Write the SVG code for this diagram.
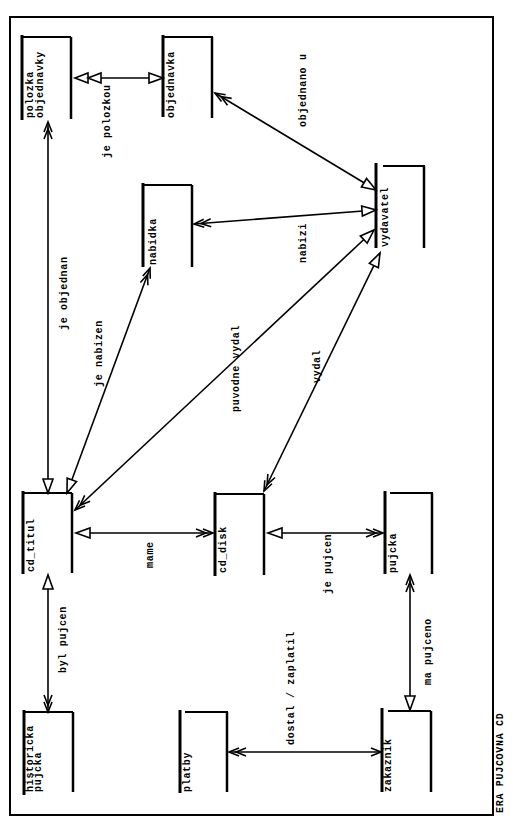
<svg xmlns="http://www.w3.org/2000/svg" width="519" height="821" viewBox="0 0 519 821">
<style>
.bg{fill:#fff}
.frame{fill:none;stroke:#000;stroke-width:2}
.bl{stroke:#000;stroke-width:3;fill:none}
.bt{stroke:#000;stroke-width:2;fill:none}
.br{stroke:#000;stroke-width:2.5;fill:none}
.c{stroke:#000;stroke-width:1.6;fill:none;marker-start:url(#crow);marker-end:url(#tri)}
.t{font-family:"Liberation Mono","DejaVu Sans Mono",monospace;font-size:10px;letter-spacing:0.7px;font-weight:bold;fill:#000}
</style>
<defs>
<marker id="tri" markerUnits="userSpaceOnUse" markerWidth="16" markerHeight="12" refX="15" refY="6" orient="auto-start-reverse" overflow="visible">
<path d="M1,1 L15,6 L1,11 Z" fill="#fff" stroke="#000" stroke-width="1.6"/>
</marker>
<marker id="tri2" markerUnits="userSpaceOnUse" markerWidth="16" markerHeight="12" refX="15" refY="6" orient="auto-start-reverse" overflow="visible">
<path d="M2,1 L15,6 L2,11 Z M-11,1 L2,6 L-11,11 Z" fill="#fff" stroke="#000" stroke-width="1.6"/>
</marker>
<marker id="crow" markerUnits="userSpaceOnUse" markerWidth="18" markerHeight="10" refX="17" refY="5" orient="auto-start-reverse" overflow="visible">
<path d="M0,1 L10,5 L0,9 M7,1 L17,5 L7,9" fill="none" stroke="#000" stroke-width="1.6"/>
</marker>
<marker id="chev" markerUnits="userSpaceOnUse" markerWidth="12" markerHeight="10" refX="11" refY="5" orient="auto-start-reverse" overflow="visible">
<path d="M1,1 L11,5 L1,9" fill="none" stroke="#000" stroke-width="1.6"/>
</marker>
</defs>
<rect class="bg" x="0" y="0" width="519" height="821"/>
<rect class="frame" x="10" y="17" width="483" height="798"/>

<g id="connectors">
<line x1="75" y1="78" x2="163" y2="78" stroke="#000" stroke-width="1.6" marker-start="url(#tri2)" marker-end="url(#tri)"/>
<line class="c" x1="215" y1="93" x2="376" y2="190"/>
<line class="c" x1="194" y1="224" x2="376" y2="210"/>
<line class="c" x1="48" y1="122" x2="48" y2="493"/>
<line class="c" x1="150" y1="268" x2="67" y2="493"/>
<line class="c" x1="75" y1="510" x2="374" y2="230"/>
<line class="c" x1="264" y1="491" x2="380" y2="253"/>
<line x1="76" y1="533" x2="213" y2="533" stroke="#000" stroke-width="1.6" marker-start="url(#tri)" marker-end="url(#crow)"/>
<line x1="268" y1="533" x2="383" y2="533" stroke="#000" stroke-width="1.6" marker-start="url(#tri)" marker-end="url(#crow)"/>
<line x1="48" y1="575" x2="48" y2="712" stroke="#000" stroke-width="1.6" marker-start="url(#tri)" marker-end="url(#crow)"/>
<line class="c" x1="410" y1="575" x2="410" y2="710"/>
<line x1="229" y1="752" x2="381" y2="752" stroke="#000" stroke-width="1.6" marker-start="url(#crow)" marker-end="url(#chev)"/>
<text class="t" transform="translate(110,158) rotate(-90)">je polozkou</text>
<text class="t" transform="translate(306,127) rotate(-90)">objednano u</text>
<text class="t" transform="translate(306,263) rotate(-90)">nabizi</text>
<text class="t" transform="translate(67,330) rotate(-90)">je objednan</text>
<text class="t" transform="translate(102,387) rotate(-90)">je nabizen</text>
<text class="t" transform="translate(239,412) rotate(-90)">puvodne vydal</text>
<text class="t" transform="translate(320,383) rotate(-90)">vydal</text>
<text class="t" transform="translate(153,568) rotate(-90)">mame</text>
<text class="t" transform="translate(331,594) rotate(-90)">je pujcen</text>
<text class="t" transform="translate(66,673) rotate(-90)">byl pujcen</text>
<text class="t" transform="translate(431,685) rotate(-90)">ma pujceno</text>
<text class="t" transform="translate(294,745) rotate(-90)">dostal / zaplatil</text>
</g>

<g id="polozka_objednavky">
<line class="bl" x1="22" y1="35" x2="22" y2="120"/>
<line class="bt" x1="22" y1="37" x2="71" y2="37"/>
<line class="br" x1="71" y1="37" x2="71" y2="119"/>
<text class="t" transform="translate(33,118) rotate(-90)">polozka</text>
<text class="t" transform="translate(43,118) rotate(-90)">objednavky</text>
</g>
<g id="objednavka">
<line class="bl" x1="163" y1="35" x2="163" y2="117"/>
<line class="bt" x1="163" y1="37" x2="213" y2="37"/>
<line class="br" x1="212" y1="37" x2="212" y2="118"/>
<text class="t" transform="translate(174,118) rotate(-90)">objednavka</text>
</g>
<g id="nabidka">
<line class="bl" x1="143" y1="183" x2="143" y2="267"/>
<line class="bt" x1="143" y1="185" x2="192" y2="185"/>
<line class="br" x1="192" y1="185" x2="192" y2="267"/>
<text class="t" transform="translate(156,265) rotate(-90)">nabidka</text>
</g>
<g id="vydavatel">
<line class="bl" x1="376" y1="163" x2="376" y2="248"/>
<line class="bt" x1="383" y1="166" x2="425" y2="166"/>
<line class="br" x1="424" y1="166" x2="424" y2="248"/>
<text class="t" transform="translate(388,247) rotate(-90)">vydavatel</text>
</g>
<g id="cd_titul">
<line class="bl" x1="23" y1="491" x2="23" y2="574"/>
<line class="bt" x1="23" y1="493" x2="72" y2="493"/>
<line class="br" x1="72" y1="493" x2="72" y2="573"/>
<text class="t" transform="translate(34,572) rotate(-90)">cd_titul</text>
</g>
<g id="cd_disk">
<line class="bl" x1="215" y1="492" x2="215" y2="576"/>
<line class="bt" x1="215" y1="494" x2="264" y2="494"/>
<line class="br" x1="264" y1="494" x2="264" y2="575"/>
<text class="t" transform="translate(226,573) rotate(-90)">cd_disk</text>
</g>
<g id="pujcka">
<line class="bl" x1="385" y1="491" x2="385" y2="574"/>
<line class="bt" x1="390" y1="493" x2="433" y2="493"/>
<line class="br" x1="432" y1="493" x2="432" y2="574"/>
<text class="t" transform="translate(396,573) rotate(-90)">pujcka</text>
</g>
<g id="historicka_pujcka">
<line class="bl" x1="24" y1="710" x2="24" y2="795"/>
<line class="bt" x1="24" y1="712" x2="73" y2="712"/>
<line class="br" x1="73" y1="712" x2="73" y2="792"/>
<text class="t" transform="translate(33,792) rotate(-90)">historicka</text>
<text class="t" transform="translate(41,792) rotate(-90)">pujcka</text>
</g>
<g id="platby">
<line class="bl" x1="180" y1="710" x2="180" y2="793"/>
<line class="bt" x1="185" y1="712" x2="228" y2="712"/>
<line class="br" x1="227" y1="712" x2="227" y2="792"/>
<text class="t" transform="translate(190,792) rotate(-90)">platby</text>
</g>
<g id="zakaznik">
<line class="bl" x1="382" y1="708" x2="382" y2="792"/>
<line class="bt" x1="388" y1="711" x2="431" y2="711"/>
<line class="br" x1="431" y1="711" x2="431" y2="792"/>
<text class="t" transform="translate(391,792) rotate(-90)">zakaznik</text>
</g>
<text class="t" transform="translate(503,813) rotate(-90)">ERA PUJCOVNA CD</text>
</svg>
